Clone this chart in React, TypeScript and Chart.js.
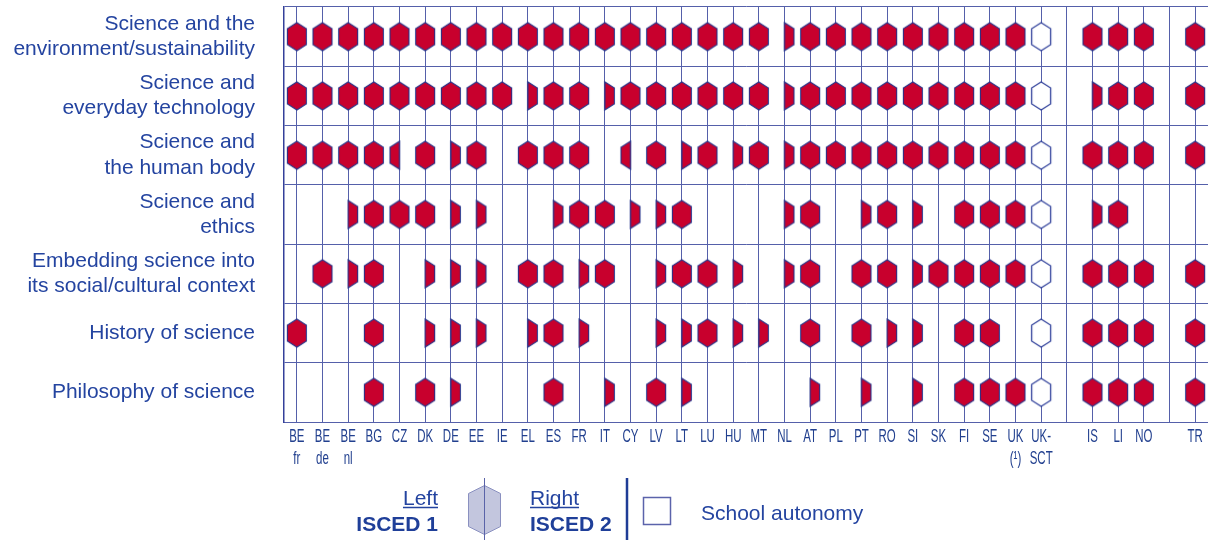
import React, { useEffect, useRef } from 'react';
import { Chart, registerables } from 'chart.js';

Chart.register(...registerables);

// ---------- data ----------
const topics: string[][] = [
  ['Science and the', 'environment/sustainability'],
  ['Science and', 'everyday technology'],
  ['Science and', 'the human body'],
  ['Science and', 'ethics'],
  ['Embedding science into', 'its social/cultural context'],
  ['History of science'],
  ['Philosophy of science'],
];

// empty entries are the group separators
const countries: string[][] = [
  ['BE', 'fr'], ['BE', 'de'], ['BE', 'nl'], ['BG'], ['CZ'], ['DK'], ['DE'], ['EE'], ['IE'], ['EL'],
  ['ES'], ['FR'], ['IT'], ['CY'], ['LV'], ['LT'], ['LU'], ['HU'], ['MT'], ['NL'],
  ['AT'], ['PL'], ['PT'], ['RO'], ['SI'], ['SK'], ['FI'], ['SE'], ['UK', '(¹)'], ['UK-', 'SCT'],
  [], ['IS'], ['LI'], ['NO'], [], ['TR'],
];

// F = ISCED 1 and 2, L = ISCED 1 only (left), R = ISCED 2 only (right), W = school autonomy, - = none
const environmentRow = 'FFFFF FFFFF FFFFF FFFFR FFFFF FFFFW -FFF- F';
const technologyRow = 'FFFFF FFFFR FFRFF FFFFR FFFFF FFFFW -RFF- F';
const humanBodyRow = 'FFFFL FRF-F FF-LF RFRFR FFFFF FFFFW -FFF- F';
const ethicsRow = '--RFF FRR-- RFFRR F---R F-RFR -FFFW -RF-- -';
const socialContextRow = '-FRF- RRR-F FRF-R FFR-R F-FFR FFFFW -FFF- F';
const historyRow = 'F--F- RRR-R FR--R RFRR- F-FRR -FF-W -FFF- F';
const philosophyRow = '---F- FR--- F-R-F R---- R-R-R -FFFW -FFF- F';

const rows = [environmentRow, technologyRow, humanBodyRow, ethicsRow, socialContextRow, historyRow, philosophyRow];

// category keys (unique strings) used by the scales
const colKeys = countries.map((c, i) => (c.length ? c.join(' ') : `sep${i}`));
const rowKeys = topics.map((t) => t.join(' '));

// ---------- styles ----------
const FONT = '"Liberation Sans", Arial, Helvetica, sans-serif';
const TEXT_BLUE = '#2444a0';
const LABEL_BLUE = '#22408f';
const GRID = '#5560aa';
const HEX_RED = '#c8002d';
const HEX_EDGE = '#26338a';

function hexPath(ctx: CanvasRenderingContext2D, cx: number, cy: number, w: number, h: number, tip: number, kind: string) {
  const l = cx - w / 2, r = cx + w / 2, t = cy - h / 2, b = cy + h / 2;
  ctx.beginPath();
  if (kind === 'L') {
    ctx.moveTo(cx, t); ctx.lineTo(l, t + tip); ctx.lineTo(l, b - tip); ctx.lineTo(cx, b);
  } else if (kind === 'R') {
    ctx.moveTo(cx, t); ctx.lineTo(r, t + tip); ctx.lineTo(r, b - tip); ctx.lineTo(cx, b);
  } else {
    ctx.moveTo(cx, t); ctx.lineTo(r, t + tip); ctx.lineTo(r, b - tip); ctx.lineTo(cx, b);
    ctx.lineTo(l, b - tip); ctx.lineTo(l, t + tip);
  }
  ctx.closePath();
}

function makeHex(kind: string): HTMLCanvasElement {
  const c = document.createElement('canvas');
  c.width = 24; c.height = 32;
  const ctx = c.getContext('2d')!;
  hexPath(ctx, 12, 16, 19, 28, 6, kind);
  ctx.fillStyle = kind === 'W' ? '#ffffff' : HEX_RED;
  ctx.fill();
  ctx.lineWidth = kind === 'W' ? 1.3 : 1.1;
  ctx.strokeStyle = kind === 'W' ? '#2f3f9a' : HEX_EDGE;
  ctx.stroke();
  return c;
}

const overlayPlugin = {
  id: 'overlay',
  afterDraw(chart: any) {
    const ctx: CanvasRenderingContext2D = chart.ctx;
    const xs = chart.scales.x;
    const bottom = chart.chartArea.bottom;
    ctx.save();
    // country labels (condensed)
    ctx.fillStyle = LABEL_BLUE;
    ctx.font = `18.5px ${FONT}`;
    ctx.textAlign = 'center';
    ctx.textBaseline = 'middle';
    countries.forEach((lines, i) => {
      const x = xs.getPixelForValue(i);
      lines.forEach((t, j) => {
        ctx.save();
        ctx.translate(x, bottom + 15 + j * 22);
        ctx.scale(0.62, 1);
        ctx.fillText(t, 0, 0);
        ctx.restore();
      });
    });

    // legend
    ctx.textBaseline = 'alphabetic';
    ctx.fillStyle = TEXT_BLUE;
    ctx.font = `21px ${FONT}`;
    ctx.textAlign = 'right';
    ctx.fillText('Left', 438, 505);
    let w = ctx.measureText('Left').width;
    ctx.strokeStyle = TEXT_BLUE;
    ctx.lineWidth = 1.5;
    ctx.beginPath(); ctx.moveTo(438 - w, 507.5); ctx.lineTo(438, 507.5); ctx.stroke();
    ctx.textAlign = 'left';
    ctx.fillText('Right', 530, 505);
    w = ctx.measureText('Right').width;
    ctx.beginPath(); ctx.moveTo(530, 507.5); ctx.lineTo(530 + w, 507.5); ctx.stroke();
    ctx.fillText('School autonomy', 701, 519.5);
    ctx.font = `bold 21px ${FONT}`;
    ctx.fillStyle = '#1f3f99';
    ctx.textAlign = 'right';
    ctx.fillText('ISCED 1', 438, 530.5);
    ctx.textAlign = 'left';
    ctx.fillText('ISCED 2', 530, 530.5);

    // legend hexagon
    hexPath(ctx, 484.5, 510, 32, 49, 8, 'F');
    ctx.fillStyle = '#c3c6de';
    ctx.fill();
    ctx.strokeStyle = '#8a90c0';
    ctx.lineWidth = 1;
    ctx.stroke();
    ctx.strokeStyle = '#5a63a8';
    ctx.beginPath(); ctx.moveTo(484.5, 478); ctx.lineTo(484.5, 540); ctx.stroke();

    // separator
    ctx.strokeStyle = '#1f3c96';
    ctx.lineWidth = 2.5;
    ctx.beginPath(); ctx.moveTo(627, 478); ctx.lineTo(627, 540); ctx.stroke();

    // autonomy square
    ctx.fillStyle = '#ffffff';
    ctx.fillRect(643.5, 497.5, 27, 27);
    ctx.strokeStyle = '#5b63ab';
    ctx.lineWidth = 1.5;
    ctx.strokeRect(643.5, 497.5, 27, 27);
    ctx.restore();
  },
};

function zeroPadding(s: any) {
  s.paddingTop = 0; s.paddingBottom = 0; s.paddingLeft = 0; s.paddingRight = 0;
}

export default function App() {
  const ref = useRef<HTMLCanvasElement>(null);

  useEffect(() => {
    if (!ref.current) return;
    const kinds: { key: string; label: string }[] = [
      { key: 'F', label: 'ISCED 1 and 2' },
      { key: 'L', label: 'ISCED 1' },
      { key: 'R', label: 'ISCED 2' },
      { key: 'W', label: 'School autonomy' },
    ];
    const datasets = kinds.map(({ key, label }) => {
      const data: { x: string; y: string }[] = [];
      rows.forEach((row, r) => {
        const codes = row.replace(/ /g, '').split('');
        codes.forEach((c, i) => {
          if (c === key) data.push({ x: colKeys[i], y: rowKeys[r] });
        });
      });
      return {
        label,
        data,
        pointStyle: makeHex(key),
        pointRadius: 10,
        pointHoverRadius: 10,
        showLine: false,
      };
    });

    const chart = new Chart(ref.current, {
      type: 'scatter',
      data: { datasets: datasets as any },
      options: {
        animation: false,
        responsive: false,
        maintainAspectRatio: false,
        events: [],
        layout: { autoPadding: false, padding: { top: 7, left: 0, right: 0, bottom: 0 } },
        plugins: { legend: { display: false }, tooltip: { enabled: false } },
        scales: {
          x: {
            type: 'category',
            labels: colKeys,
            offset: true,
            grid: { offset: false, color: GRID, lineWidth: 1, drawTicks: false },
            border: { display: true, color: GRID, width: 1 },
            ticks: { display: false, autoSkip: false },
            afterFit: (s: any) => { s.height = 118; zeroPadding(s); },
          },
          y: {
            type: 'category',
            labels: rowKeys,
            offset: true,
            grid: { offset: true, color: GRID, lineWidth: 1, drawTicks: false },
            border: { display: true, color: '#34409a', width: 1.5 },
            ticks: {
              autoSkip: false,
              padding: 29,
              crossAlign: 'near',
              color: TEXT_BLUE,
              font: { family: FONT, size: 21, lineHeight: 1.2 },
              callback: (_v: any, i: number) => topics[i],
            },
            afterFit: (s: any) => { s.width = 284; zeroPadding(s); },
          },
        },
      } as any,
      plugins: [overlayPlugin],
    });
    return () => chart.destroy();
  }, []);

  return (
    <div style={{ position: 'absolute', left: 0, top: 0, width: 1208, height: 540, background: '#ffffff' }}>
      <canvas ref={ref} width={1208} height={540} style={{ display: 'block' }} />
    </div>
  );
}
